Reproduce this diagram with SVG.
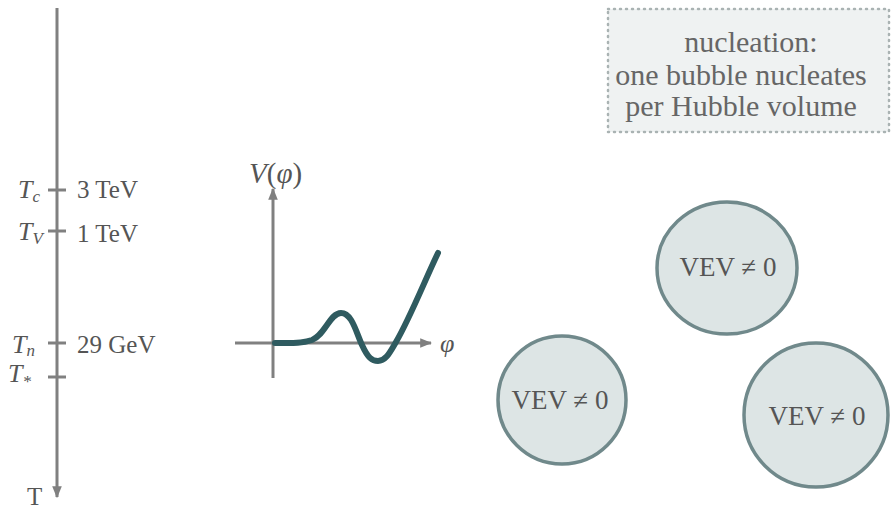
<svg xmlns="http://www.w3.org/2000/svg" width="892" height="509" viewBox="0 0 892 509">
<defs>
<style>
.ax{stroke:#808080;stroke-width:3;fill:none}
.tk{stroke:#808080;stroke-width:3}
text{font-family:'Liberation Serif','DejaVu Serif','Times New Roman',serif}
.lbl{font-size:25px;fill:#555}
.it{font-style:italic;font-size:26px;fill:#555}
.sub{font-size:17px}
.bub{fill:#dde5e5;stroke:#70898b;stroke-width:3.5}
.btxt{font-size:27px;fill:#555;text-anchor:middle}
.box{font-size:30px;fill:#666;text-anchor:middle}
</style>
<marker id="ah" viewBox="0 0 10 10" refX="9" refY="5" markerWidth="4" markerHeight="4" orient="auto">
<path d="M0,1 L10,5 L0,9 Z" fill="#808080"/>
</marker>
</defs>
<rect width="892" height="509" fill="#fff"/>

<g id="connectors">
<line class="ax" x1="57" y1="8" x2="57" y2="497" marker-end="url(#ah)"/>
<line class="tk" x1="48" y1="190" x2="66" y2="190"/>
<line class="tk" x1="48" y1="231" x2="66" y2="231"/>
<line class="tk" x1="48" y1="343" x2="66" y2="343"/>
<line class="tk" x1="48" y1="377" x2="66" y2="377"/>
</g>

<g id="time-axis-labels">
<text class="it" x="18" y="198">T<tspan class="sub" dy="4">c</tspan></text>
<text class="lbl" x="77" y="198">3 TeV</text>
<text class="it" x="18" y="240">T<tspan class="sub" dy="4">V</tspan></text>
<text class="lbl" x="77" y="242">1 TeV</text>
<text class="it" x="12" y="353">T<tspan class="sub" dy="3">n</tspan></text>
<text class="lbl" x="77" y="353">29 GeV</text>
<text class="it" x="8" y="382">T<tspan class="sub" dy="5">*</tspan></text>
<text class="lbl" x="27" y="505">T</text>
</g>

<g id="potential-plot">
<line class="ax" x1="273" y1="378" x2="273" y2="189" stroke-width="2.5" marker-end="url(#ah)"/>
<line class="ax" x1="235" y1="343" x2="431" y2="343" stroke-width="2.5" marker-end="url(#ah)"/>
<path d="M275,343 C290,343 300,344 312,340 C325,335 330,313 341,313 C352,313 356,332 362,345 C368,358 372,361 378,361 C386,361 390,352 396,342 C410,318 425,280 438,253" fill="none" stroke="#2f5b60" stroke-width="6" stroke-linecap="round"/>
<text class="it" x="249" y="183" style="font-size:29px">V<tspan font-style="normal">(</tspan>φ<tspan font-style="normal">)</tspan></text>
<text class="it" x="440" y="352">φ</text>
</g>

<g id="nucleation-box">
<rect x="608" y="9" width="281" height="123" fill="#eff2f2" stroke="#aab3b3" stroke-width="2.5" stroke-dasharray="1 5" stroke-linecap="round"/>
<text class="box" x="751" y="52">nucleation:</text>
<text class="box" x="741" y="85">one bubble nucleates</text>
<text class="box" x="741" y="116">per Hubble volume</text>
</g>

<g id="bubble-top">
<ellipse class="bub" cx="727" cy="268" rx="70" ry="66"/>
<text class="btxt" x="728" y="276">VEV ≠ 0</text>
</g>
<g id="bubble-left">
<ellipse class="bub" cx="562" cy="400" rx="64" ry="64"/>
<text class="btxt" x="560" y="409">VEV ≠ 0</text>
</g>
<g id="bubble-right">
<ellipse class="bub" cx="816" cy="415" rx="72" ry="72"/>
<text class="btxt" x="817" y="425">VEV ≠ 0</text>
</g>
</svg>
